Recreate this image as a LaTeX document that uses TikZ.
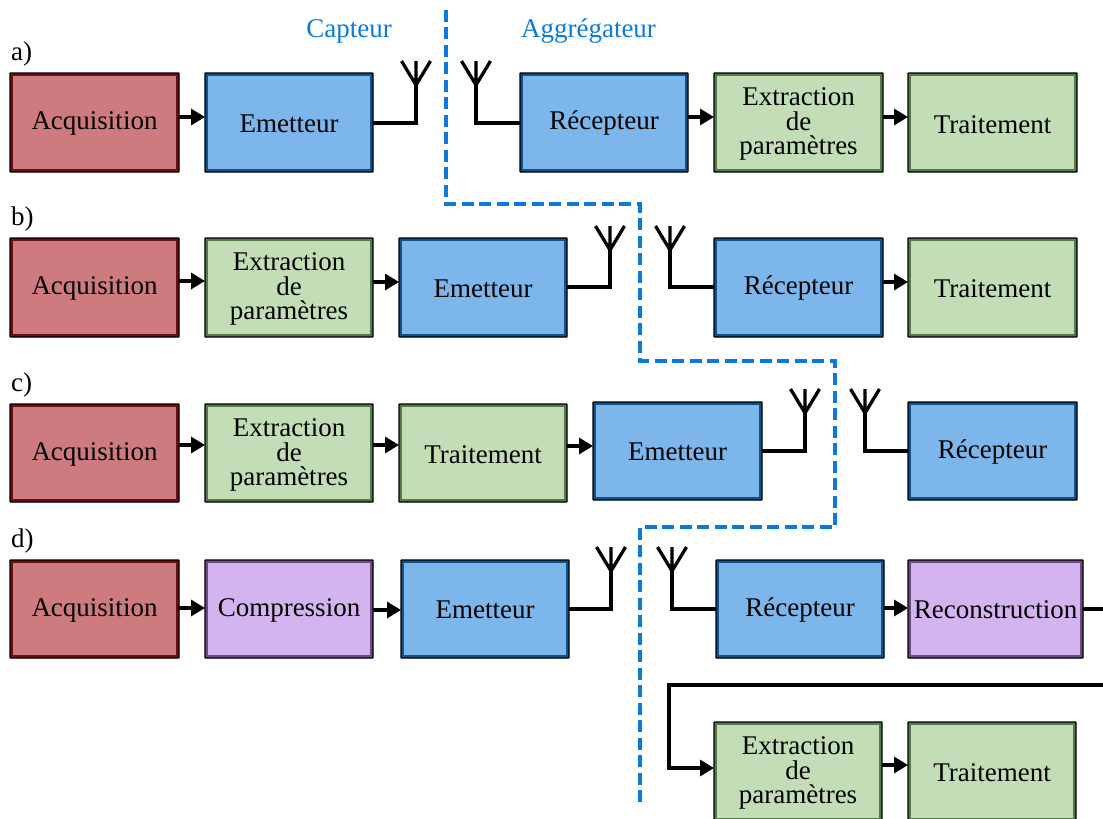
\documentclass[tikz,border=0pt]{standalone}
\usepackage{fontspec}
\setmainfont{Liberation Serif}
\usetikzlibrary{arrows.meta}
\definecolor{redF}{HTML}{CD7B7F}\definecolor{redD}{HTML}{6B0D12}
\definecolor{bluF}{HTML}{7DB6EA}\definecolor{bluD}{HTML}{12508A}
\definecolor{grnF}{HTML}{C3DEB6}\definecolor{grnD}{HTML}{55794A}
\definecolor{purF}{HTML}{D4B4EE}\definecolor{purD}{HTML}{6B4A8A}
\definecolor{sep}{HTML}{0A7BDB}
\tikzset{
  blockbox/.style n args={2}{rectangle,draw=black,line width=1.4pt,fill=#1,inner sep=0pt,outer sep=0pt,
    rounded corners=0.6pt,
    path picture={\draw[#2,line width=6pt,sharp corners] (path picture bounding box.south west) rectangle (path picture bounding box.north east);}},
  redbox/.style={blockbox={redF}{redD}},
  blubox/.style={blockbox={bluF}{bluD}},
  grnbox/.style={blockbox={grnF}{grnD}},
  purbox/.style={blockbox={purF}{purD}},
  arr/.style={line width=3.3pt,-{Triangle[length=14pt,width=16pt]},shorten >=0pt},
  wire/.style={line width=3.3pt,line join=miter},
  antenna/.style={line width=3.3pt,line join=miter},
  bound/.style={sep,line width=3.4pt,dash pattern=on 12pt off 5.49pt},
  heading/.style={text=sep,inner sep=0pt,anchor=base},
  rowlabel/.style={inner sep=0pt,anchor=base west},
}
% name, x1, y1, x2, y2, style, baseline y, text
\newcommand{\blk}[8]{%
  \pgfmathsetmacro{\blkW}{#4-#2}\pgfmathsetmacro{\blkH}{#5-#3}%
  \pgfmathsetmacro{\blkX}{(#2+#4)/2}\pgfmathsetmacro{\blkY}{(#3+#5)/2}%
  \pgfmathsetmacro{\blkR}{\blkY-#7}%
  \node[#6,minimum width=\blkW pt,minimum height=\blkH pt] (#1) at (\blkX,\blkY)
    {\raisebox{\blkR pt}[0pt][0pt]{#8}};}
\newcommand{\threel}[3]{\begin{tabular}[t]{@{}c@{}}#1\\[-0.8pt]#2\\[-2.2pt]#3\end{tabular}}
% stem name, x, top y, bottom y
\newcommand{\ant}[4]{%
  \coordinate (#1) at (#2,#4);
  \draw[antenna] ({#2-14.5},#3) -- (#2,{#3+24}) -- ({#2+14.5},#3) (#2,#3) -- (#2,{#3+24});
  \coordinate (#1top) at (#2,{#3+24});}
\begin{document}
\begin{tikzpicture}[x=1pt,y=-1pt,every node/.style={font=\fontsize{27}{24.5}\selectfont}]
\useasboundingbox (0,0) rectangle (1103,819);
\fill[white] (0,0) rectangle (1103,819);

% separator
\coordinate (s0) at (446,10);\coordinate (s1) at (446,204);\coordinate (s2) at (640,204);
\coordinate (s3) at (640,361);\coordinate (s4) at (835,361);\coordinate (s5) at (835,527);
\coordinate (s6) at (640,527);\coordinate (s7) at (640,802);
\draw[bound] (s0) -- (s1) -- (s2) -- (s3) -- (s4) -- (s5) -- (s6) -- (s7);
\node[heading] (capt) at (349,37) {Capteur};
\node[heading] (aggr) at (588.5,37) {Aggrégateur};
\node[rowlabel] (la) at (11,60) {a)};
\node[rowlabel] (lb) at (11,225.5) {b)};
\node[rowlabel] (lc) at (11,391.5) {c)};
\node[rowlabel] (ld) at (11,547) {d)};

% row a
\blk{a1}{10}{73}{179}{172}{redbox}{129.5}{Acquisition}
\blk{a2}{205}{73}{373}{172}{blubox}{132}{Emetteur}
\blk{a3}{520}{73}{688}{172}{blubox}{129}{Récepteur}
\blk{a4}{714}{73}{883}{172}{grnbox}{105}{\threel{Extraction}{de}{paramètres}}
\blk{a5}{908}{73}{1077}{172}{grnbox}{133}{Traitement}
\draw[arr] (a1.east |- 0,117) -- (a2.west |- 0,117);
\draw[arr] (a3.east |- 0,117) -- (a4.west |- 0,117);
\draw[arr] (a4.east |- 0,117) -- (a5.west |- 0,117);
\ant{ata}{416}{61}{123}
\ant{ara}{476}{61}{123}
\draw[wire] (a2.east |- ata) -- (ata) -- (atatop);
\draw[wire] (aratop) -- (ara) -- (a3.west |- ara);

% row b
\blk{b1}{10}{238}{179}{337}{redbox}{294.5}{Acquisition}
\blk{b2}{205}{238}{373}{337}{grnbox}{270}{\threel{Extraction}{de}{paramètres}}
\blk{b3}{399}{238}{567}{337}{blubox}{297}{Emetteur}
\blk{b4}{714}{238}{883}{337}{blubox}{294}{Récepteur}
\blk{b5}{908}{238}{1077}{337}{grnbox}{297}{Traitement}
\draw[arr] (b1.east |- 0,281) -- (b2.west |- 0,281);
\draw[arr] (b2.east |- 0,282) -- (b3.west |- 0,282);
\draw[arr] (b4.east |- 0,282) -- (b5.west |- 0,282);
\ant{atb}{610}{226}{287}
\ant{arb}{670}{226}{287}
\draw[wire] (b3.east |- atb) -- (atb) -- (atbtop);
\draw[wire] (arbtop) -- (arb) -- (b4.west |- arb);

% row c
\blk{c1}{10}{404}{179}{502}{redbox}{460.5}{Acquisition}
\blk{c2}{205}{404}{373}{502}{grnbox}{436}{\threel{Extraction}{de}{paramètres}}
\blk{c3}{399}{404}{567}{502}{grnbox}{463}{Traitement}
\blk{c4}{593}{402}{762}{500}{blubox}{460.5}{Emetteur}
\blk{c5}{908}{402}{1077}{500}{blubox}{458}{Récepteur}
\draw[arr] (c1.east |- 0,445) -- (c2.west |- 0,445);
\draw[arr] (c2.east |- 0,445) -- (c3.west |- 0,445);
\draw[arr] (c3.east |- 0,446) -- (c4.west |- 0,446);
\ant{atc}{805}{389}{451}
\ant{arc}{865}{389}{451}
\draw[wire] (c4.east |- atc) -- (atc) -- (atctop);
\draw[wire] (arctop) -- (arc) -- (c5.west |- arc);

% row d
\blk{d1}{10}{560}{179}{658}{redbox}{616}{Acquisition}
\blk{d2}{205}{560}{373}{658}{purbox}{616}{Compression}
\blk{d3}{401}{560}{569}{658}{blubox}{618}{Emetteur}
\blk{d4}{716}{560}{884}{658}{blubox}{616}{Récepteur}
\blk{d5}{908}{560}{1083}{658}{purbox}{618}{Reconstruction}
\draw[arr] (d1.east |- 0,608) -- (d2.west |- 0,608);
\draw[arr] (d2.east |- 0,610) -- (d3.west |- 0,610);
\draw[arr] (d4.east |- 0,608) -- (d5.west |- 0,608);
\ant{atd}{611}{547}{609}
\ant{ard}{672}{547}{609}
\draw[wire] (d3.east |- atd) -- (atd) -- (atdtop);
\draw[wire] (ardtop) -- (ard) -- (d4.west |- ard);

% row e
\blk{e1}{714}{722}{882}{821}{grnbox}{754}{\threel{Extraction}{de}{paramètres}}
\blk{e2}{908}{722}{1076}{821}{grnbox}{781}{Traitement}
\draw[arr] (e1.east |- 0,765) -- (e2.west |- 0,765);
\coordinate (lo1) at (1103,609);
\coordinate (lo2) at (1103,685);
\coordinate (lo3) at (669,685);
\coordinate (lo4) at (669,768);
\draw[wire] (d5.east |- lo1) -- (lo1);
\draw[arr] (lo2) -- (lo3) -- (lo4) -- (e1.west |- lo4);
\end{tikzpicture}
\end{document}
